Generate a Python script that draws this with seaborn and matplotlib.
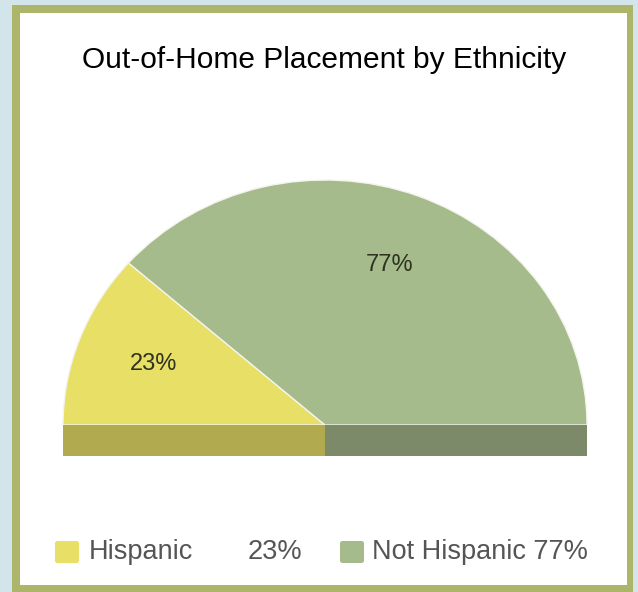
import matplotlib
matplotlib.use("Agg")
import matplotlib.pyplot as plt
from matplotlib.patches import Rectangle, FancyBboxPatch
import seaborn as sns

sns.set_theme(style="white")
plt.rcParams['font.family'] = ['Liberation Sans', 'DejaVu Sans']

# ---- data ----
title = "Out-of-Home Placement by Ethnicity"
categories = ["Hispanic", "Not Hispanic"]
values = [23, 77]
top_colors = ["#e8df67", "#a6bb8b"]
side_colors = ["#b2aa4f", "#7c8a6a"]
legend_pct = ["23%", "77%"]

W, H = 638, 592
fig = plt.figure(figsize=(W / 100, H / 100), dpi=100)
fig.patch.set_facecolor("#d2e5ea")

# frame and white panel
fig.patches.append(Rectangle((12 / W, 0), (633 - 12) / W, (592 - 5) / H,
                             transform=fig.transFigure, facecolor="#adb56a",
                             edgecolor="none", zorder=-2))
fig.patches.append(Rectangle((20 / W, (592 - 585) / H), (627 - 20) / W, (585 - 13) / H,
                             transform=fig.transFigure, facecolor="white",
                             edgecolor="none", zorder=-1))

ax = fig.add_axes([0, 0, 1, 1])
ax.set_zorder(2)
ax.patch.set_alpha(0)

# semi-circle: the hidden lower half takes the other 100
pie_vals = values + [sum(values)]
colors = top_colors + ["none"]
wedges, texts, autotexts = ax.pie(
    pie_vals, colors=colors, startangle=180, counterclock=False,
    radius=1.0, pctdistance=0.7,
    autopct=lambda p: f"{p * 2:.0f}%" if p < 49 else "",
    wedgeprops=dict(linewidth=1.0, edgecolor="#f4f4ee"),
    textprops=dict(fontsize=17, color="#2e3320"),
)
wedges[-1].set_edgecolor("none")
wedges[-1].set_facecolor("none")

# front face (extrusion) of the half pie
depth = 0.127
ax.add_patch(Rectangle((-1, -depth), 1, depth, facecolor=side_colors[0],
                       edgecolor="none", zorder=3))
ax.add_patch(Rectangle((0, -depth), 1, depth, facecolor=side_colors[1],
                       edgecolor="none", zorder=3))

# map data space: center (325,425) px, rx 262 px, ry 245 px
cx, cy, rx, ry = 325, 425, 262, 245
ax.set_aspect("auto")
ax.set_xlim(-cx / rx, (W - cx) / rx)
ax.set_ylim(-(H - cy) / ry, cy / ry)
ax.axis("off")

fig.text(324 / W, 1 - 60 / H, title, ha="center", va="center",
         fontsize=21.5, color="black", zorder=5)

# legend
leg_y = 1 - 552 / H
sq = [(55, top_colors[0]), (340, top_colors[1])]
for x0, c in sq:
    fig.patches.append(FancyBboxPatch((x0 / W, (592 - 563) / H), 24 / W, 22 / H,
                                      boxstyle="round,pad=0,rounding_size=0.004",
                                      transform=fig.transFigure, facecolor=c,
                                      edgecolor="none", zorder=2))
fig.text(89 / W, leg_y, categories[0], ha="left", va="center",
         fontsize=19.5, color="#555555")
fig.text(302 / W, leg_y, legend_pct[0], ha="right", va="center",
         fontsize=19.5, color="#555555")
fig.text(372 / W, leg_y, f"{categories[1]} {legend_pct[1]}", ha="left",
         va="center", fontsize=19.5, color="#555555")

fig.savefig("out.png", dpi=100, facecolor=fig.get_facecolor())
